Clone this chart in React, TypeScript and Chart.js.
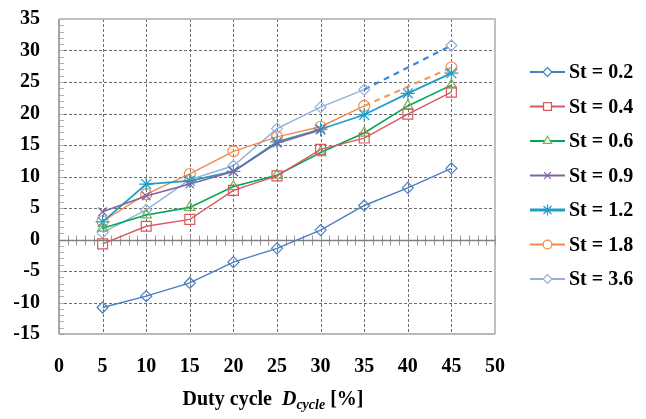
import React, { useEffect, useRef } from 'react';
import { Chart, registerables } from 'chart.js';
import { drawPoint } from 'chart.js/helpers';

Chart.register(...registerables);

// ---- data ----
const dutyCycle = [5, 10, 15, 20, 25, 30, 35, 40, 45];
const seriesLabels = ['St = 0.2', 'St = 0.4', 'St = 0.6', 'St = 0.9', 'St = 1.2', 'St = 1.8', 'St = 3.6'];
const st02 = [-10.8, -9.0, -6.9, -3.6, -1.4, 1.5, 5.4, 8.2, 11.3];
const st04 = [-0.7, 2.1, 3.2, 7.8, 10.1, 14.3, 16.1, 19.9, 23.4];
const st06 = [1.8, 3.9, 5.1, 8.4, 10.2, 13.8, 16.9, 21.2, 24.5];
const st09 = [4.4, 6.9, 8.8, 10.8, 15.3, 17.4, null, null, null];
const st12 = [2.8, 8.8, 9.3, 10.8, 15.5, 17.5, 19.8, 23.2, 26.4];
const st18 = [2.9, 7.2, 10.4, 14.0, 16.3, 17.9, 21.2, null, 27.3];
const st36 = [1.1, 4.7, 9.5, 11.7, 17.6, 21.0, 23.8, null, 30.8];
const seriesValues = [st02, st04, st06, st09, st12, st18, st36];

const xTickValues = [0, 5, 10, 15, 20, 25, 30, 35, 40, 45, 50];
const yTickValues = [-15, -10, -5, 0, 5, 10, 15, 20, 25, 30, 35];

// ---- styles ----
const styles = [
  { color: '#4a7fc1', marker: '#4a7fc1', style: 'rectRot', r: 5.5, w: 1.4, gap: null },
  { color: '#d9595c', marker: '#d9595c', style: 'rect', r: 7, w: 1.4, gap: null },
  { color: '#00a65a', marker: '#77b255', style: 'triangle', r: 6, w: 1.6, gap: null },
  { color: '#8064a2', marker: '#8064a2', style: 'crossRot', r: 6, w: 1.6, gap: null },
  { color: '#1f9fc4', marker: '#1f9fc4', style: 'star', r: 7, w: 1.8, gap: null },
  { color: '#f4884a', marker: '#f4884a', style: 'circle', r: 5.5, w: 1.4, gap: '#f79a5e' },
  { color: '#94b0d8', marker: '#94b0d8', style: 'rectRot', r: 5.5, w: 1.4, gap: '#3a86d8' },
];

const FONT = '"Liberation Serif", "Times New Roman", serif';
const xMin = xTickValues[0], xMax = xTickValues[xTickValues.length - 1];
const yMin = yTickValues[0], yMax = yTickValues[yTickValues.length - 1];

function dottedV(ctx: any, px: number, y0: number, y1: number) {
  ctx.beginPath();
  for (let yy = y0; yy < y1; yy += 5) {
    ctx.moveTo(px, yy);
    ctx.lineTo(px, Math.min(yy + 3, y1));
  }
  ctx.stroke();
}
function dottedH(ctx: any, py: number, x0: number, x1: number) {
  ctx.beginPath();
  for (let xx = x0; xx < x1; xx += 5) {
    ctx.moveTo(xx, py);
    ctx.lineTo(Math.min(xx + 3, x1), py);
  }
  ctx.stroke();
}

const decor = {
  id: 'decor',
  beforeDatasetsDraw(chart: any) {
    const ctx = chart.ctx;
    const a = chart.chartArea;
    const x = chart.scales.x, y = chart.scales.y;
    ctx.save();
    // dotted grid
    ctx.strokeStyle = '#6e6e6e';
    ctx.lineWidth = 1;
    for (const v of xTickValues) {
      if (v === xMin || v === xMax) continue;
      const px = Math.round(x.getPixelForValue(v)) + 0.5;
      dottedV(ctx, px, a.top, a.bottom);
    }
    for (const v of yTickValues) {
      if (v === yMin || v === yMax || v === 0) continue;
      const py = Math.round(y.getPixelForValue(v)) + 0.5;
      dottedH(ctx, py, a.left, a.right);
    }
    // left axis minor ticks
    ctx.strokeStyle = '#b3b3b3';
    ctx.lineWidth = 1;
    for (let v = yMin; v <= yMax; v++) {
      const py = Math.round(y.getPixelForValue(v)) + 0.5;
      ctx.beginPath();
      ctx.moveTo(a.left, py);
      ctx.lineTo(a.left + 5, py);
      ctx.stroke();
    }
    // borders
    ctx.strokeStyle = '#c0c0c0';
    ctx.lineWidth = 2;
    ctx.beginPath();
    ctx.moveTo(a.left, a.top);
    ctx.lineTo(a.right, a.top);
    ctx.lineTo(a.right, a.bottom);
    ctx.stroke();
    ctx.strokeStyle = '#a0a0a0';
    ctx.lineWidth = 1.5;
    ctx.beginPath();
    ctx.moveTo(a.left, a.bottom);
    ctx.lineTo(a.right, a.bottom);
    ctx.stroke();
    ctx.strokeStyle = '#8a8a8a';
    ctx.beginPath();
    ctx.moveTo(a.left, a.top);
    ctx.lineTo(a.left, a.bottom);
    ctx.stroke();
    // zero line with ticks
    const y0 = Math.round(y.getPixelForValue(0)) + 0.5;
    ctx.strokeStyle = '#9a9a9a';
    ctx.lineWidth = 1;
    for (let v = xMin; v <= xMax; v++) {
      const px = Math.round(x.getPixelForValue(v)) + 0.5;
      ctx.beginPath();
      ctx.moveTo(px, y0 - 5);
      ctx.lineTo(px, y0 + 5);
      ctx.stroke();
    }
    ctx.strokeStyle = '#7f7f7f';
    ctx.lineWidth = 1.5;
    ctx.beginPath();
    ctx.moveTo(a.left, y0);
    ctx.lineTo(a.right, y0);
    ctx.stroke();
    ctx.restore();
  },
  afterDraw(chart: any) {
    const ctx = chart.ctx;
    const a = chart.chartArea;
    ctx.save();
    // legend
    const lx0 = 530, lx1 = 565, ly0 = 72, ldy = 34.5;
    ctx.textBaseline = 'middle';
    ctx.textAlign = 'left';
    seriesLabels.forEach((label, i) => {
      const s = styles[i];
      const ly = ly0 + i * ldy;
      ctx.strokeStyle = s.color;
      ctx.lineWidth = i === 4 ? 3 : 2;
      ctx.beginPath();
      ctx.moveTo(lx0, ly);
      ctx.lineTo(lx1, ly);
      ctx.stroke();
      ctx.strokeStyle = s.marker;
      ctx.fillStyle = '#ffffff';
      ctx.lineWidth = 1.2;
      drawPoint(ctx, { pointStyle: s.style, radius: s.r * 0.8, borderWidth: 1.2, rotation: 0 }, (lx0 + lx1) / 2, ly);
      ctx.fillStyle = '#000';
      ctx.font = 'bold 20px ' + FONT;
      ctx.fillText(label, 569, ly + 1);
    });
    // x axis title
    const parts = [
      { t: 'Duty cycle  ', f: 'bold 20px ' + FONT, dy: 0 },
      { t: 'D', f: 'italic bold 20px ' + FONT, dy: 0 },
      { t: 'cycle', f: 'italic bold 14px ' + FONT, dy: 4 },
      { t: ' [%]', f: 'bold 20px ' + FONT, dy: 0 },
    ];
    let total = 0;
    parts.forEach(p => { ctx.font = p.f; total += ctx.measureText(p.t).width; });
    let cx = (a.left + a.right) / 2 - 4 - total / 2;
    ctx.textBaseline = 'alphabetic';
    ctx.fillStyle = '#000';
    parts.forEach(p => {
      ctx.font = p.f;
      ctx.fillText(p.t, cx, 405 + p.dy);
      cx += ctx.measureText(p.t).width;
    });
    ctx.restore();
  },
};

export default function App() {
  const ref = useRef<HTMLCanvasElement | null>(null);
  useEffect(() => {
    if (!ref.current) return;
    const datasets = seriesValues.map((vals, i) => {
      const s = styles[i];
      const gapColor = s.gap;
      return {
        label: seriesLabels[i],
        data: dutyCycle.map((d, j) => ({ x: d, y: vals[j] })),
        borderColor: s.color,
        backgroundColor: 'rgba(0,0,0,0)',
        borderWidth: s.w,
        pointStyle: s.style,
        pointRadius: s.r,
        pointBorderColor: s.marker,
        pointBackgroundColor: 'rgba(0,0,0,0)',
        pointBorderWidth: 1.2,
        spanGaps: true,
        segment: gapColor
          ? {
              borderDash: (c: any) => (c.p0.skip || c.p1.skip ? [6, 5] : undefined),
              borderColor: (c: any) => (c.p0.skip || c.p1.skip ? gapColor : undefined),
              borderWidth: (c: any) => (c.p0.skip || c.p1.skip ? 2.2 : undefined),
            }
          : undefined,
      };
    });
    const chart = new Chart(ref.current, {
      type: 'line',
      data: { datasets },
      options: {
        animation: false,
        responsive: true,
        maintainAspectRatio: false,
        layout: { padding: { left: 0, right: 151, top: 19, bottom: 0 } },
        plugins: { legend: { display: false }, tooltip: { enabled: false } },
        scales: {
          x: {
            type: 'linear',
            min: xMin,
            max: xMax,
            afterFit: (s: any) => { s.height = 85; s.paddingLeft = 0; s.paddingRight = 0; },
            ticks: { stepSize: 5, color: '#000', font: { family: FONT, size: 20, weight: 'bold' }, padding: 21, maxRotation: 0 },
            grid: { display: false, drawTicks: false },
            border: { display: false },
          },
          y: {
            type: 'linear',
            min: yMin,
            max: yMax,
            afterFit: (s: any) => { s.width = 59; s.paddingTop = 0; s.paddingBottom = 0; },
            ticks: { stepSize: 5, color: '#000', font: { family: FONT, size: 20, weight: 'bold' }, padding: 19 },
            grid: { display: false, drawTicks: false },
            border: { display: false },
          },
        },
      } as any,
      plugins: [decor],
    });
    return () => chart.destroy();
  }, []);
  return (
    <div style={{ position: 'fixed', left: 0, top: 0, width: 646, height: 419, background: '#fff' }}>
      <canvas ref={ref} />
    </div>
  );
}
